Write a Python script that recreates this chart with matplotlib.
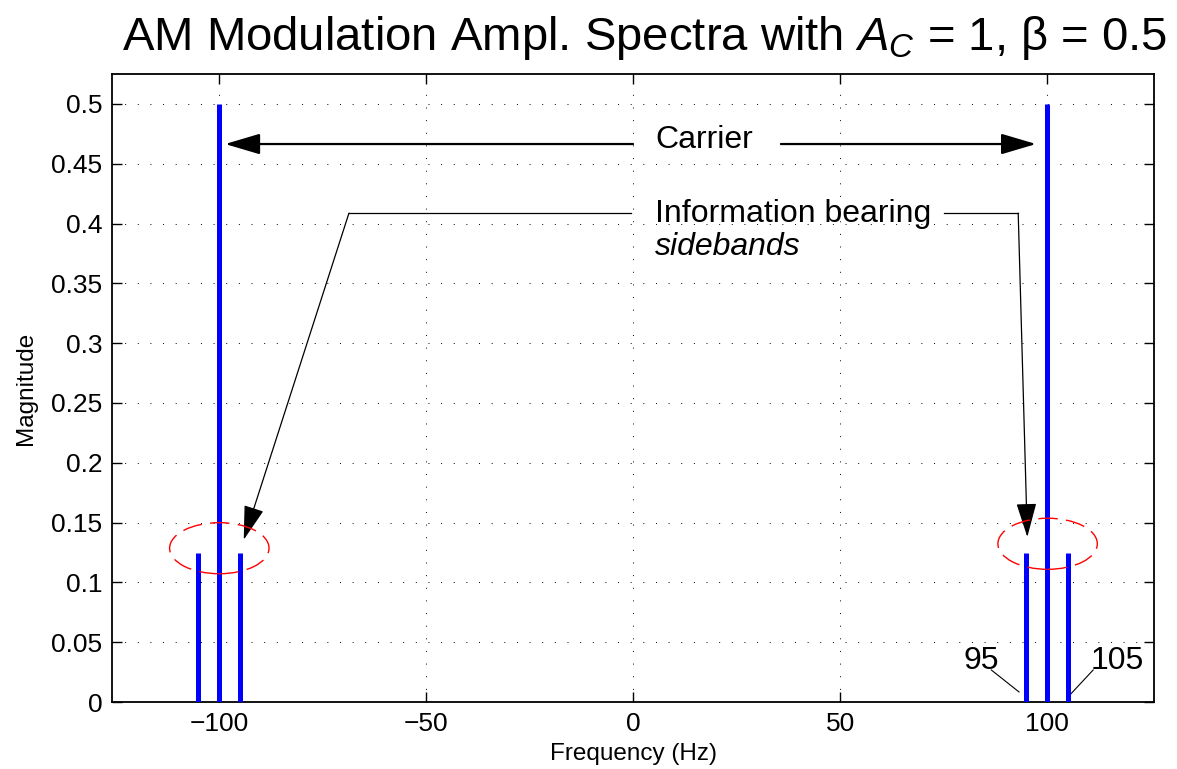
import matplotlib
matplotlib.use("Agg")
import matplotlib.pyplot as plt
from matplotlib.patches import Ellipse

plt.rcParams['font.family'] = ['Liberation Sans', 'DejaVu Sans']
plt.rcParams['mathtext.fontset'] = 'custom'
plt.rcParams['mathtext.rm'] = 'Liberation Sans'
plt.rcParams['mathtext.it'] = 'Liberation Sans:italic'

# spectrum lines
freqs = [-105, -100, -95, 95, 100, 105]
mags = [0.125, 0.5, 0.125, 0.125, 0.5, 0.125]

xticks = [-100, -50, 0, 50, 100]
yticks = [0, 0.05, 0.1, 0.15, 0.2, 0.25, 0.3, 0.35, 0.4, 0.45, 0.5]
ytick_labels = ['0', '0.05', '0.1', '0.15', '0.2', '0.25', '0.3', '0.35', '0.4', '0.45', '0.5']

fig = plt.figure(figsize=(11.77, 7.69), dpi=100)
ax = fig.add_axes([0.0952, 0.0871, 0.8853, 0.8166])

ax.vlines(freqs, 0, mags, color='blue', lw=3.6, zorder=3)

ax.set_xlim(-125.8, 125.8)
ax.set_ylim(0, 0.525)
ax.set_xticks(xticks)
ax.set_yticks(yticks)
ax.set_yticklabels(ytick_labels)
ax.tick_params(direction='in', length=7, width=1, top=True, right=True,
               labelsize=19, pad=7)
ax.grid(True, color='black', linestyle=(0, (1, 12)), lw=0.7)
ax.set_axisbelow(True)
for s in ax.spines.values():
    s.set_linewidth(1.3)

ax.set_xlabel('Frequency (Hz)', fontsize=17.5, labelpad=5)
ax.set_ylabel('Magnitude', fontsize=17.5, labelpad=10)

fig.text(0.548, 0.935, r'AM Modulation Ampl. Spectra with $A_C$ = 1, β = 0.5',
         ha='center', va='baseline', fontsize=34)

# carrier arrows
head = '-|>,head_length=1.08,head_width=0.32'
ax.text(5.4, 0.4698, 'Carrier', fontsize=23, va='center', ha='left')
ax.annotate('', xy=(-98.5, 0.4665), xytext=(0, 0.4665),
            arrowprops=dict(arrowstyle=head, mutation_scale=20, color='black',
                            lw=1.6, shrinkA=0, shrinkB=0))
ax.annotate('', xy=(97.3, 0.4665), xytext=(35.7, 0.4665),
            arrowprops=dict(arrowstyle=head, mutation_scale=20, color='black',
                            lw=1.6, shrinkA=0, shrinkB=0))

# sideband arrows
ax.text(5.4, 0.408, 'Information bearing', fontsize=23, va='center', ha='left')
ax.text(5.4, 0.380, 'sidebands', fontsize=23, va='center', ha='left', style='italic')
ax.plot([-0.5, -68.6], [0.4087, 0.4087], color='black', lw=0.9)
ax.annotate('', xy=(-94, 0.1357), xytext=(-68.6, 0.4087),
            arrowprops=dict(arrowstyle=head, mutation_scale=20, color='black',
                            lw=0.9, shrinkA=0, shrinkB=0))
ax.plot([75.1, 93.0], [0.4087, 0.4087], color='black', lw=0.9)
ax.annotate('', xy=(95.2, 0.138), xytext=(93.0, 0.4087),
            arrowprops=dict(arrowstyle=head, mutation_scale=20, color='black',
                            lw=0.9, shrinkA=0, shrinkB=0))

# dashed circles round the sidebands
for cx, cy in [(-99.9, 0.1286), (100.1, 0.1323)]:
    ax.add_patch(Ellipse((cx, cy), 24, 0.0427, fill=False, edgecolor='red',
                         lw=1.0, linestyle=(0, (14, 6)), zorder=4))

# frequency labels
ax.text(84.1, 0.0343, '95', fontsize=23, ha='center', va='center')
ax.plot([86.5, 93.2], [0.0268, 0.0084], color='black', lw=0.8)
ax.text(117.0, 0.0343, '105', fontsize=23, ha='center', va='center')
ax.plot([111.1, 104.8], [0.0268, 0.0034], color='black', lw=0.8)

fig.savefig('out.png', dpi=100)
